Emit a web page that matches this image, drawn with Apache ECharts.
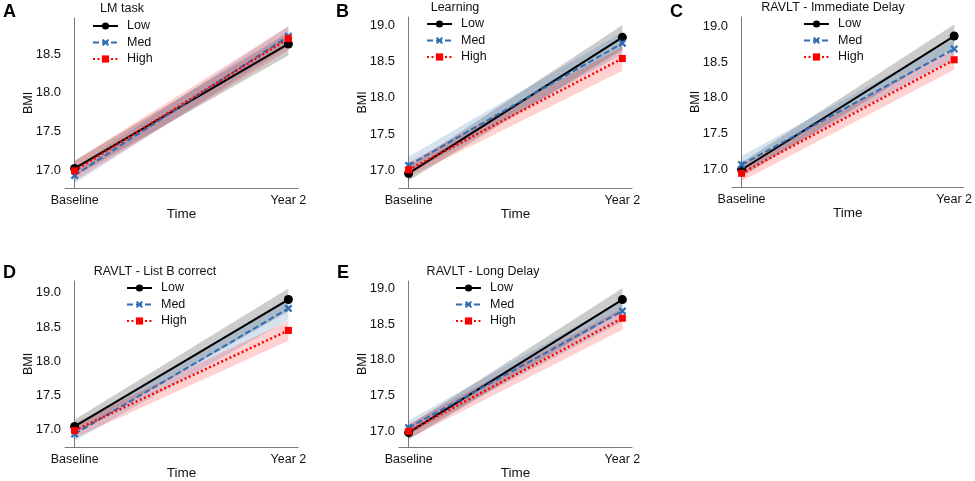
<!DOCTYPE html>
<html>
<head>
<meta charset="utf-8">
<script src="https://cdn.jsdelivr.net/npm/echarts@6/dist/echarts.min.js"></script>
<style>html,body{margin:0;padding:0;background:#fff;}#c{width:975px;height:481px;}</style>
</head>
<body>
<div id="c"></div>
<script>
// ---- data ----
const panelLetters = ['A', 'B', 'C', 'D', 'E'];
const panelTitles = ['LM task', 'Learning', 'RAVLT - Immediate Delay', 'RAVLT - List B correct', 'RAVLT - Long Delay'];
const timeLabels = ['Baseline', 'Year 2'];
const groupNames = ['Low', 'Med', 'High'];
const yTicks = [
  [17.0, 17.5, 18.0, 18.5],
  [17.0, 17.5, 18.0, 18.5, 19.0],
  [17.0, 17.5, 18.0, 18.5, 19.0],
  [17.0, 17.5, 18.0, 18.5, 19.0],
  [17.0, 17.5, 18.0, 18.5, 19.0]
];
const yMin = [16.767, 16.76, 16.76, 16.75, 16.78];
const yMax = [18.966, 19.11, 19.125, 19.17, 19.10];

// means [baseline, year2] per panel
const lowMean  = [[17.02, 18.63], [16.96, 18.83], [17.00, 18.86], [17.05, 18.90], [16.98, 18.84]];
const medMean  = [[16.93, 18.73], [17.07, 18.75], [17.07, 18.68], [16.94, 18.77], [17.05, 18.68]];
const highMean = [[16.99, 18.70], [17.01, 18.54], [16.95, 18.53], [16.99, 18.45], [17.00, 18.58]];

// confidence bands [baseline, year2]
const lowLower  = [[16.92, 18.48], [16.86, 18.66], [16.90, 18.70], [16.95, 18.73], [16.88, 18.68]];
const lowUpper  = [[17.12, 18.78], [17.06, 19.00], [17.10, 19.02], [17.15, 19.06], [17.08, 19.00]];
const medLower  = [[16.83, 18.60], [16.95, 18.60], [16.95, 18.55], [16.84, 18.60], [16.95, 18.53]];
const medUpper  = [[17.03, 18.86], [17.19, 18.90], [17.19, 18.82], [17.04, 18.93], [17.15, 18.83]];
const highLower = [[16.86, 18.55], [16.91, 18.37], [16.84, 18.39], [16.88, 18.30], [16.90, 18.42]];
const highUpper = [[17.12, 18.86], [17.11, 18.70], [17.06, 18.68], [17.10, 18.59], [17.10, 18.72]];

// ---- layout / style ----
const FONT = 'Liberation Sans, Arial, sans-serif';
const TXT = '#111';
const gridPos = [
  {left: 65, top: 18, width: 233, height: 170},
  {left: 399, top: 17, width: 233, height: 171},
  {left: 732, top: 17, width: 233, height: 170},
  {left: 65, top: 281, width: 233, height: 170},
  {left: 399, top: 281, width: 233, height: 170}
];
const letterPos = [[3, 3], [336, 3], [670, 3], [3, 264], [337, 264]];
const titlePos = [[122, 9], [455, 8], [833, 8], [155, 272], [483, 272]];
const legendPos = [[92, 19], [426, 17], [803, 17], [126, 281], [455, 281]];

const BLUE = '#2f6db5';
const RED = '#ff0000';
const styles = {
  Low:  {color: '#000000', band: 'rgba(0,0,0,0.2)', type: 'solid', width: 2, symbol: 'circle', size: 9},
  Med:  {color: BLUE, band: 'rgba(47,109,181,0.2)', type: [6, 3], width: 2, symbol: 'path://M2,0L5,3L8,0L10,2L7,5L10,8L8,10L5,7L2,10L0,8L3,5L0,2Z', size: 8},
  High: {color: RED, band: 'rgba(255,0,0,0.18)', type: [2, 2.5], width: 2.5, symbol: 'rect', size: 7}
};
const means = {Low: lowMean, Med: medMean, High: highMean};
const lowers = {Low: lowLower, Med: medLower, High: highLower};
const uppers = {Low: lowUpper, Med: medUpper, High: highUpper};

const grid = [], xAxis = [], yAxis = [], series = [], legend = [], graphic = [];

panelLetters.forEach((L, i) => {
  grid.push(Object.assign({containLabel: false}, gridPos[i]));
  xAxis.push({
    type: 'value', gridIndex: i, min: -0.045, max: 1.045,
    name: 'Time', nameLocation: 'middle', nameGap: 19, nameMoveOverlap: false,
    nameTextStyle: {fontFamily: FONT, fontSize: 13.5, color: TXT},
    axisLine: {show: true, lineStyle: {color: '#7a7a7a', width: 1}},
    axisTick: {show: false},
    splitLine: {show: false},
    axisLabel: {customValues: [0, 1], formatter: v => timeLabels[Math.round(v)], margin: 6,
      fontFamily: FONT, fontSize: 12.5, color: TXT, showMinLabel: true, showMaxLabel: true}
  });
  yAxis.push({
    type: 'value', gridIndex: i, min: yMin[i], max: yMax[i],
    name: 'BMI', nameLocation: 'middle', nameGap: 30, nameRotate: 90, nameMoveOverlap: false,
    nameTextStyle: {fontFamily: FONT, fontSize: 12.5, color: TXT},
    axisLine: {show: true, lineStyle: {color: '#7a7a7a', width: 1}},
    axisTick: {show: false},
    splitLine: {show: false},
    axisLabel: {customValues: yTicks[i], formatter: v => v.toFixed(1), margin: 4,
      fontFamily: FONT, fontSize: 13, color: TXT}
  });

  groupNames.forEach(g => {
    const st = styles[g];
    const lo = lowers[g][i], hi = uppers[g][i];
    series.push({
      type: 'custom', name: g + ' band', xAxisIndex: i, yAxisIndex: i, z: 1, silent: true,
      data: [[0, lo[0], hi[0], 1, lo[1], hi[1]]],
      encode: {x: [0, 3], y: [1, 2, 4, 5]},
      renderItem: (params, api) => {
        const a = api.coord([api.value(0), api.value(1)]);
        const b = api.coord([api.value(3), api.value(4)]);
        const c = api.coord([api.value(3), api.value(5)]);
        const d = api.coord([api.value(0), api.value(2)]);
        return {type: 'polygon', shape: {points: [a, b, c, d]}, style: {fill: st.band}};
      }
    });
  });
  groupNames.forEach(g => {
    const st = styles[g];
    const m = means[g][i];
    series.push({
      type: 'line', name: g, xAxisIndex: i, yAxisIndex: i, z: 3,
      data: [[0, m[0]], [1, m[1]]],
      symbol: st.symbol, symbolSize: st.size, showSymbol: true,
      lineStyle: {color: st.color, width: st.width, type: st.type},
      itemStyle: {color: st.color, borderWidth: 0},
      emphasis: {disabled: true}
    });
  });

  legend.push({
    data: groupNames, orient: 'vertical', left: legendPos[i][0], top: legendPos[i][1],
    itemWidth: 25, itemHeight: 9, itemGap: 2.5, padding: 0,
    selectedMode: false,
    textStyle: {fontFamily: FONT, fontSize: 12.5, color: TXT, lineHeight: 14, padding: [0, 0, 0, 4]}
  });

  graphic.push({type: 'text', left: letterPos[i][0], top: letterPos[i][1],
    style: {text: L, font: 'bold 18px ' + FONT, fill: '#000'}});
  graphic.push({type: 'text', x: titlePos[i][0], y: titlePos[i][1],
    style: {text: panelTitles[i], font: '12.5px ' + FONT, fill: TXT, align: 'center', verticalAlign: 'middle'}});
});

const chart = echarts.init(document.getElementById('c'), null, {renderer: 'canvas'});
chart.setOption({animation: false, backgroundColor: '#fff', grid, xAxis, yAxis, series, legend, graphic});
</script>
</body>
</html>
